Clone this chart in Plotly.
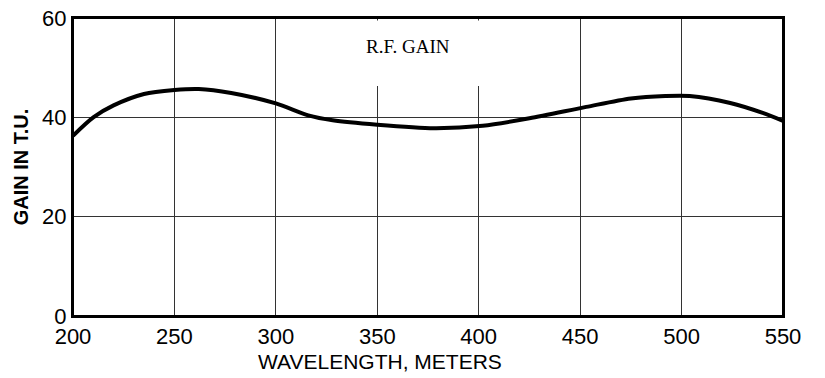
import plotly.graph_objects as go

# values
wavelength = [200, 210, 220, 235, 250, 262, 278, 300, 316, 328, 350, 378, 402,
              425, 453, 475, 492, 504, 524, 540, 550]
gain_tu = [36.3, 40.0, 42.4, 44.7, 45.5, 45.7, 44.9, 42.8, 40.4, 39.4, 38.5, 37.8, 38.3,
           39.8, 42.1, 43.8, 44.3, 44.3, 42.9, 40.9, 39.3]
x_ticks = [200, 250, 300, 350, 400, 450, 500, 550]
y_ticks = [0, 20, 40, 60]

fig = go.Figure()

fig.add_trace(go.Scatter(
    x=wavelength, y=gain_tu,
    mode='lines',
    line=dict(color='black', width=4, shape='spline', smoothing=0.8),
    showlegend=False
))

# white patch over the grid so the lines stop short of the label
fig.add_shape(type='rect', x0=335, x1=420, y0=46.3, y1=59.5,
              fillcolor='white', line=dict(width=0), layer='between')

# plot frame
fig.add_shape(type='rect', xref='paper', yref='paper', x0=0, x1=1, y0=0, y1=1,
              line=dict(color='black', width=2), layer='above')

fig.add_annotation(x=365, y=54.3, text='R.F. GAIN', showarrow=False,
                   font=dict(family='Liberation Serif', size=19, color='black'))

# x title sits left of centre in the original
fig.add_annotation(xref='paper', yref='paper', x=0.432, y=-0.153,
                   text='WAVELENGTH, METERS', showarrow=False,
                   xanchor='center', yanchor='middle',
                   font=dict(size=21, color='black'))

fig.update_layout(
    width=825, height=378,
    margin=dict(l=65, r=50, t=10, b=70),
    paper_bgcolor='white', plot_bgcolor='white',
    font=dict(family='Liberation Sans', color='black'),
)

fig.update_xaxes(
    range=[200, 550], tickvals=x_ticks, automargin=False,
    showgrid=True, gridcolor='#333333', gridwidth=1,
    showline=True, linecolor='black', linewidth=2, mirror=True,
    ticks='', tickfont=dict(size=22), ticklabeloverflow='allow',
    zeroline=False
)
fig.update_yaxes(
    range=[0, 60], tickvals=y_ticks, automargin=False,
    showgrid=True, gridcolor='#333333', gridwidth=1,
    showline=True, linecolor='black', linewidth=2, mirror=True,
    ticks='', tickfont=dict(size=22), ticklabeloverflow='allow',
    title=dict(text='<b>GAIN IN T.U.</b>', font=dict(size=20), standoff=8),
    zeroline=False
)

fig.write_html("out.html", config={'displayModeBar': False})
